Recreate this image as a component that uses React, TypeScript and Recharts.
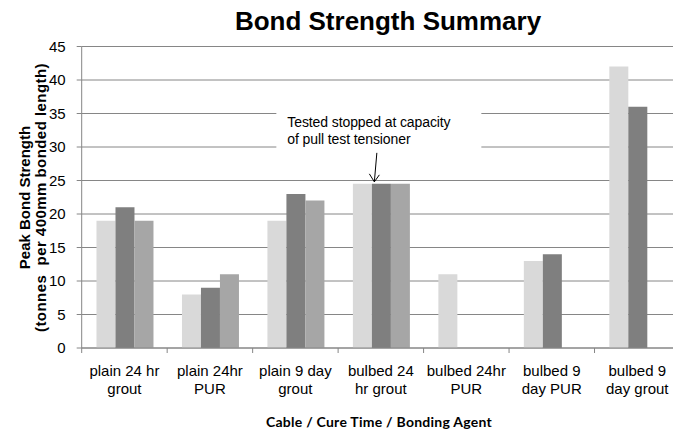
import React from 'react';
import { BarChart, Bar, XAxis, YAxis, CartesianGrid, ReferenceDot } from 'recharts';

const categories = [
  'plain 24 hr\ngrout',
  'plain 24hr\nPUR',
  'plain 9 day\ngrout',
  'bulbed 24\nhr grout',
  'bulbed 24hr\nPUR',
  'bulbed 9\nday PUR',
  'bulbed 9\nday grout',
];
const seriesA = [19, 8, 19, 24.5, 11, 13, 42];
const seriesB = [21, 9, 23, 24.5, null, 14, 36];
const seriesC = [19, 11, 22, 24.5, null, null, null];
const yTicks = [0, 5, 10, 15, 20, 25, 30, 35, 40, 45];

const FONT = "Arial, 'Liberation Sans', sans-serif";
const GRID = '#868686';

const data = categories.map((name, i) => ({ name, a: seriesA[i], b: seriesB[i], c: seriesC[i] }));

// category label, plus the tick marks at the category edges (Excel style)
const CatTick = (props: any) => {
  const { x, y, payload, index } = props;
  const half = payload.offset || 0;
  const lines = String(payload.value).split('\n');
  return (
    <g>
      <line x1={x - half} x2={x - half} y1={y} y2={y + 5} stroke={GRID} />
      {index === categories.length - 1 && <line x1={x + half} x2={x + half} y1={y} y2={y + 5} stroke={GRID} />}
      {lines.map((l, i) => (
        <text key={i} x={x} y={y + 22 + i * 18} textAnchor="middle" dominantBaseline="central"
          fontSize={15} fontFamily={FONT} fill="#000">{l}</text>
      ))}
    </g>
  );
};

const Note = (props: any) => {
  const { cx, cy } = props;
  const tx = cx - 6.5, ty = cy - 2;
  return (
    <g>
      <rect x={cx - 104.5} y={cy - 84} width={205} height={63} fill="#fff" />
      <text x={cx - 93.5} y={cy - 62} dominantBaseline="central" fontSize={14} fontFamily={FONT} fill="#000" letterSpacing={-0.1}>
        Tested stopped at capacity
      </text>
      <text x={cx - 93.5} y={cy - 45} dominantBaseline="central" fontSize={14} fontFamily={FONT} fill="#000" letterSpacing={-0.1}>
        of pull test tensioner
      </text>
      <line x1={cx - 4} y1={cy - 31} x2={tx} y2={ty} stroke="#000" strokeWidth={1} />
      <polyline points={`${tx - 5},${ty - 8} ${tx},${ty} ${tx + 5},${ty - 7}`} fill="none" stroke="#000" strokeWidth={1} />
    </g>
  );
};

export default function App() {
  return (
    <div style={{ position: 'absolute', left: 0, top: 0, width: 673, height: 430, overflow: 'hidden', background: '#fff' }}>
      <BarChart width={690} height={430} data={data} margin={{ top: 46.5, right: 10, bottom: 0, left: 0 }}
        barCategoryGap="17.3%" barGap={0}>
        <CartesianGrid vertical={false} stroke={GRID} strokeWidth={1} />
        <XAxis dataKey="name" height={82} interval={0} axisLine={{ stroke: GRID }} tickLine={false}
          tickSize={0} tickMargin={0} tick={<CatTick />} />
        <YAxis width={81.7} domain={[0, 45]} ticks={yTicks} interval={0} axisLine={{ stroke: GRID }}
          tickLine={{ stroke: GRID }} tickSize={5} tickMargin={11}
          tick={{ fontSize: 15, fontFamily: FONT, fill: '#000' }} />
        <Bar dataKey="a" fill="#d9d9d9" isAnimationActive={false} />
        <Bar dataKey="b" fill="#7f7f7f" isAnimationActive={false} />
        <Bar dataKey="c" fill="#a6a6a6" isAnimationActive={false} />
        <ReferenceDot x={categories[3]} y={seriesB[3]} r={0} shape={Note} />
        <text x={388} y={21} textAnchor="middle" dominantBaseline="central" fontSize={26} fontWeight="bold"
          fontFamily={FONT} fill="#000">Bond Strength Summary</text>
        <g transform="translate(0,197.5) rotate(-90)">
          <text x={0} y={24.5} textAnchor="middle" dominantBaseline="central" fontSize={15} fontWeight="bold"
            fontFamily={FONT} fill="#000">Peak Bond Strength</text>
          <text x={0} y={40} textAnchor="middle" dominantBaseline="central" fontSize={15} fontWeight="bold"
            fontFamily={FONT} fill="#000" letterSpacing={0.45} style={{ whiteSpace: 'pre' }}>(tonnes  per 400mm bonded length)</text>
        </g>
        <text x={379} y={421} textAnchor="middle" dominantBaseline="central" fontSize={14} fontWeight="bold"
          fontFamily="Lato, 'Open Sans', sans-serif" fill="#000" letterSpacing={0.25}>Cable / Cure Time / Bonding Agent</text>
      </BarChart>
    </div>
  );
}
